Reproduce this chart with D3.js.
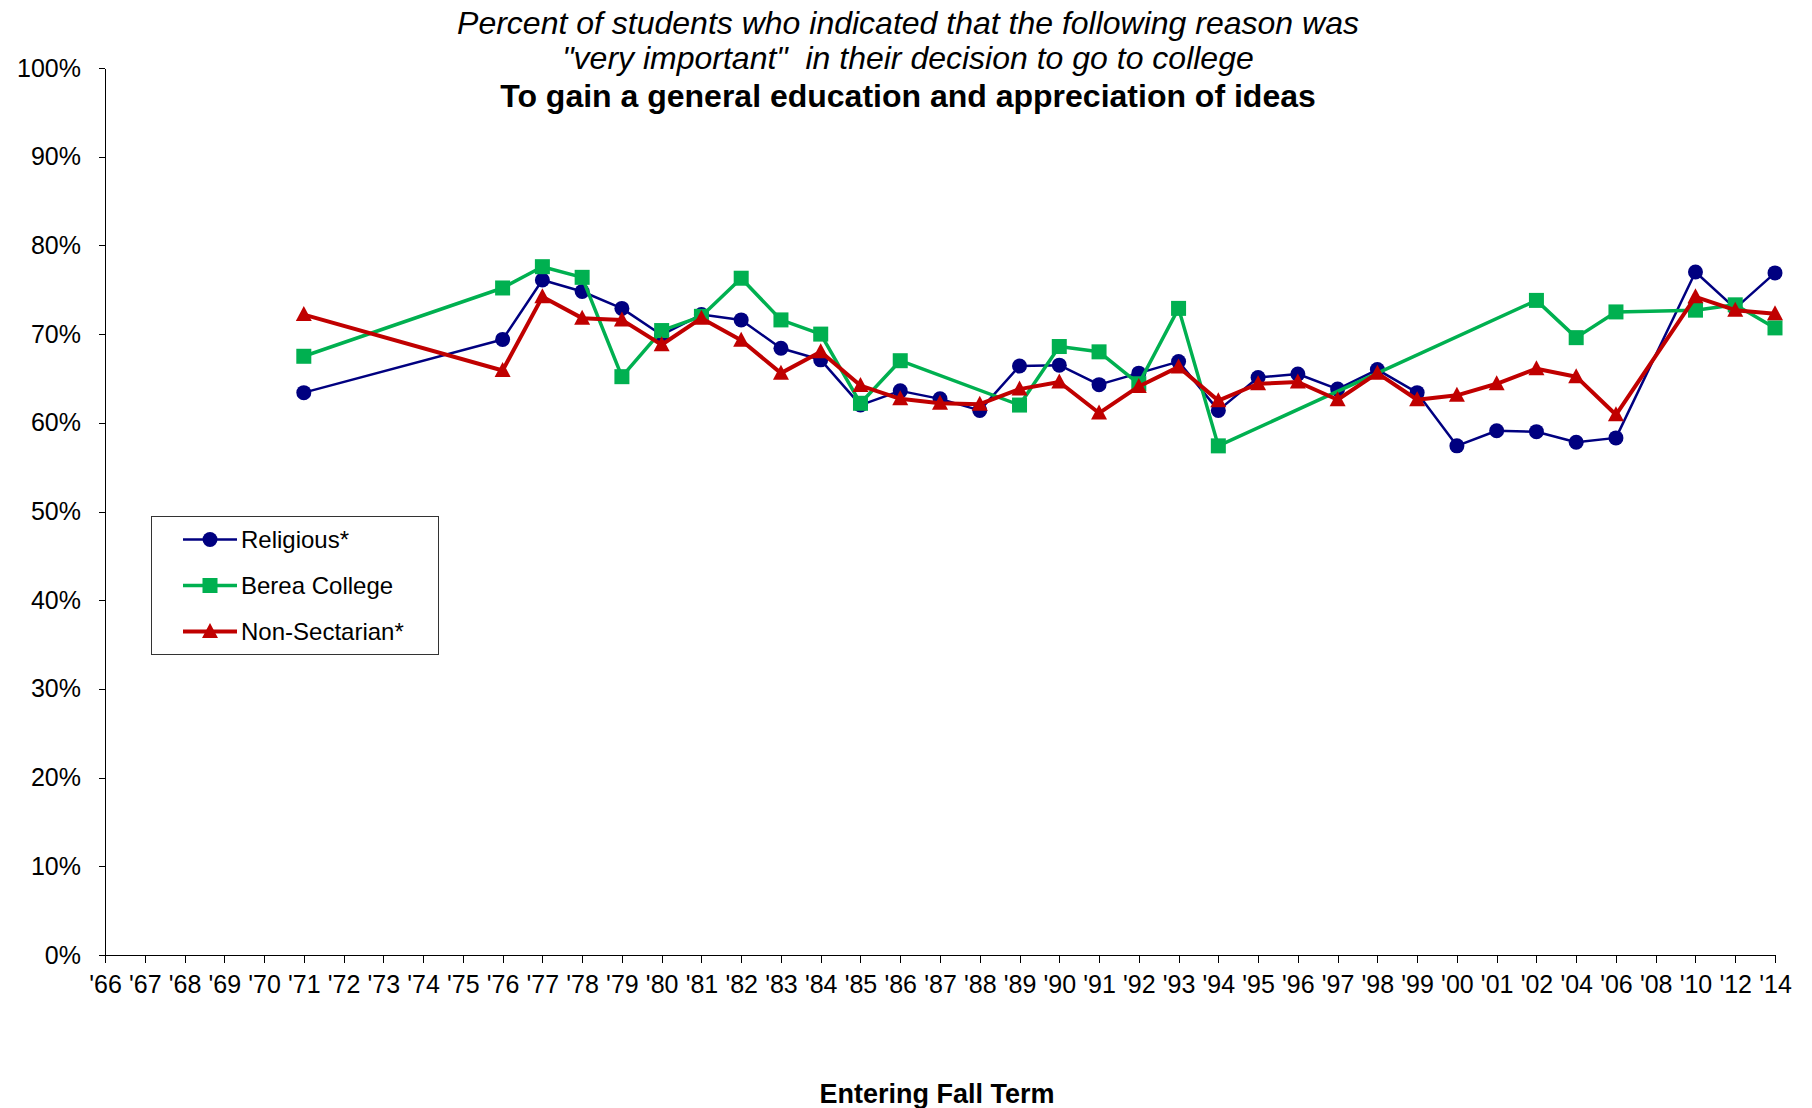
<!DOCTYPE html>
<html lang="en">
<head>
<meta charset="utf-8">
<script src="https://cdn.jsdelivr.net/npm/d3@7"></script>
<style>
  body { margin: 0; background: #fff; }
  svg { font-family: "Liberation Sans", Arial, sans-serif; }
  .axis text { font-size: 25px; fill: #000; }
  .axis path, .axis line { stroke: #000; stroke-width: 1; shape-rendering: crispEdges; }
  .title { font-size: 32px; text-anchor: middle; }
</style>
</head>
<body>
<div id="chart"></div>
<script>
// category labels (entering fall term)
var years = ["'66","'67","'68","'69","'70","'71","'72","'73","'74","'75","'76","'77","'78","'79",
  "'80","'81","'82","'83","'84","'85","'86","'87","'88","'89","'90","'91","'92","'93","'94",
  "'95","'96","'97","'98","'99","'00","'01","'02","'04","'06","'08","'10","'12","'14"];

var religious = [null,null,null,null,null,63.4,null,null,null,null,
  69.4,76.1,74.8,72.9,69.9,72.2,71.6,68.4,67.1,62.0,63.6,62.7,61.4,66.4,66.5,64.3,65.6,66.9,61.4,
  65.1,65.5,63.8,66.0,63.4,57.4,59.1,59.0,57.8,58.3,null,77.0,72.9,76.9];

var berea = [null,null,null,null,null,67.5,null,null,null,null,
  75.2,77.6,76.4,65.2,70.4,72.0,76.3,71.6,70.0,62.2,67.0,null,null,62.0,68.6,68.0,64.4,72.9,57.4,
  null,null,null,null,null,null,null,73.8,69.6,72.5,null,72.7,73.3,70.7];

var nonSectarian = [null,null,null,null,null,72.2,null,null,null,null,
  65.9,74.2,71.8,71.6,68.8,71.8,69.3,65.6,68.0,64.2,62.7,62.2,62.1,63.8,64.6,61.1,64.1,66.3,62.5,
  64.4,64.6,62.6,65.6,62.6,63.1,64.4,66.1,65.2,60.9,null,74.2,72.7,72.3];

var yTicks = [0,10,20,30,40,50,60,70,80,90,100];

var series = [
  {name: "Religious*", values: religious, color: "#000080", width: 2.5, marker: "circle"},
  {name: "Berea College", values: berea, color: "#00B050", width: 3.5, marker: "square"},
  {name: "Non-Sectarian*", values: nonSectarian, color: "#C00000", width: 4, marker: "triangle"}
];

var W = 1812, H = 1108;
var svg = d3.select("#chart").append("svg").attr("width", W).attr("height", H);

var x = d3.scalePoint().domain(years).range([105, 1775]);
var y = d3.scaleLinear().domain([0, 100]).range([955, 68]);

// axes
svg.append("g")
  .attr("class", "axis")
  .attr("transform", "translate(105,0)")
  .call(d3.axisLeft(y).tickValues(yTicks).tickSize(6).tickSizeOuter(0).tickPadding(18)
    .tickFormat(function(d){ return d + "%"; }));

svg.append("g")
  .attr("class", "axis")
  .attr("transform", "translate(0,955)")
  .call(d3.axisBottom(x).tickSize(8).tickSizeOuter(0).tickPadding(12));

function drawMarker(g, type, color) {
  if (type == "circle") {
    g.append("circle").attr("r", 7.5).attr("fill", color);
  } else if (type == "square") {
    g.append("rect").attr("x", -7.5).attr("y", -7.5).attr("width", 15).attr("height", 15).attr("fill", color);
  } else {
    g.append("path").attr("d", "M0,-8.5L8,6.5L-8,6.5Z").attr("fill", color);
  }
}

var line = d3.line()
  .x(function(d){ return x(d.year); })
  .y(function(d){ return y(d.v); });

series.forEach(function(s) {
  var pts = years.map(function(yr, i){ return {year: yr, v: s.values[i]}; })
    .filter(function(d){ return d.v != null; });
  var g = svg.append("g");
  g.append("path")
    .datum(pts)
    .attr("fill", "none")
    .attr("stroke", s.color)
    .attr("stroke-width", s.width)
    .attr("stroke-linejoin", "round")
    .attr("d", line);
  g.selectAll("g.pt").data(pts).enter().append("g")
    .attr("class", "pt")
    .attr("transform", function(d){ return "translate(" + x(d.year) + "," + y(d.v) + ")"; })
    .each(function(){ drawMarker(d3.select(this), s.marker, s.color); });
});

// legend
var legend = svg.append("g");
legend.append("rect")
  .attr("x", 151.5).attr("y", 516.5).attr("width", 287).attr("height", 138)
  .attr("fill", "#fff").attr("stroke", "#333").attr("stroke-width", 1);

var items = legend.selectAll("g.item").data(series).enter().append("g")
  .attr("class", "item")
  .attr("transform", function(d, i){ return "translate(0," + (539.5 + i * 46) + ")"; });
items.append("line")
  .attr("x1", 183).attr("x2", 237)
  .attr("stroke", function(d){ return d.color; })
  .attr("stroke-width", function(d){ return d.width; });
items.append("g").attr("transform", "translate(210,0)")
  .each(function(d){ drawMarker(d3.select(this), d.marker, d.color); });
items.append("text")
  .attr("x", 241).attr("dy", "0.35em")
  .style("font-size", "24px")
  .text(function(d){ return d.name; });

// titles
svg.append("text").attr("class", "title").attr("x", 908).attr("y", 34)
  .style("font-style", "italic")
  .text("Percent of students who indicated that the following reason was");
svg.append("text").attr("class", "title").attr("x", 908).attr("y", 69)
  .style("font-style", "italic")
  .attr("xml:space", "preserve")
  .text("\"very important\"  in their decision to go to college");
svg.append("text").attr("class", "title").attr("x", 908).attr("y", 107)
  .style("font-weight", "bold")
  .text("To gain a general education and appreciation of ideas");

svg.append("text")
  .attr("x", 937).attr("y", 1103)
  .attr("text-anchor", "middle")
  .style("font-size", "27px")
  .style("font-weight", "bold")
  .text("Entering Fall Term");
</script>
</body>
</html>
